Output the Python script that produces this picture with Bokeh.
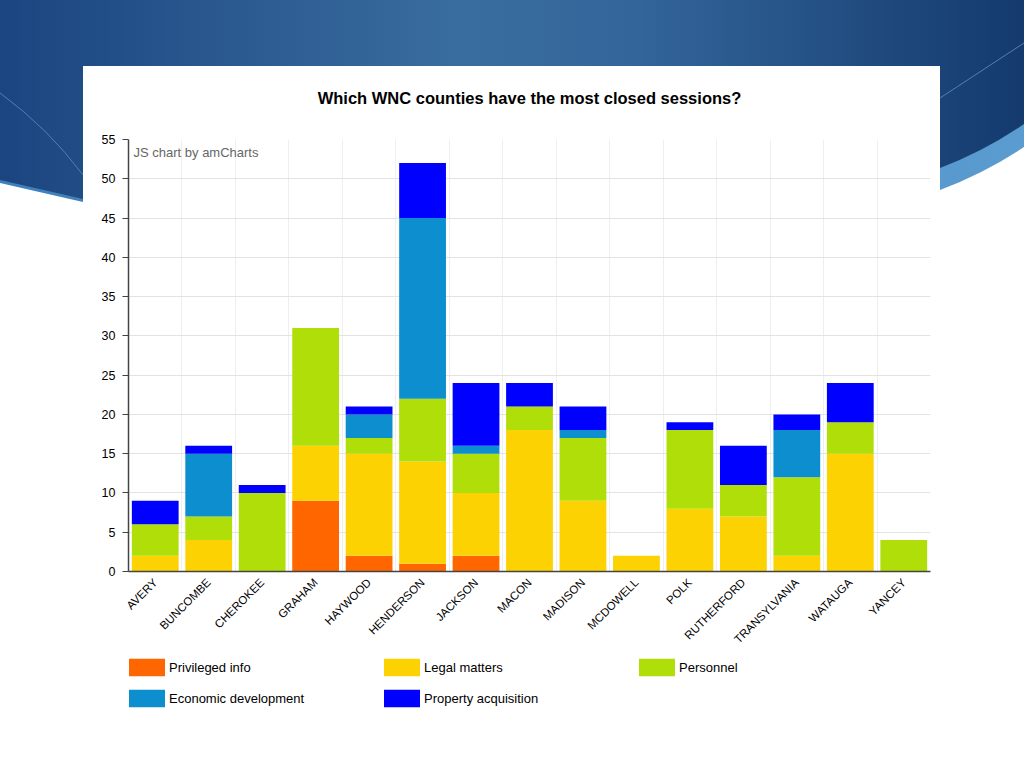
from math import pi
from urllib.parse import quote

from bokeh.plotting import figure
from bokeh.layouts import column
from bokeh.models import (ColumnDataSource, FactorRange, Range1d, FixedTicker,
                          Label, Legend, LegendItem)
from bokeh.embed import file_html
from bokeh.resources import INLINE

# ---------------- data ----------------
counties = ["AVERY", "BUNCOMBE", "CHEROKEE", "GRAHAM", "HAYWOOD", "HENDERSON",
            "JACKSON", "MACON", "MADISON", "MCDOWELL", "POLK", "RUTHERFORD",
            "TRANSYLVANIA", "WATAUGA", "YANCEY"]
privileged_info = [0, 0, 0, 9, 2, 1, 2, 0, 0, 0, 0, 0, 0, 0, 0]
legal_matters = [2, 4, 0, 7, 13, 13, 8, 18, 9, 2, 8, 7, 2, 15, 0]
personnel = [4, 3, 10, 15, 2, 8, 5, 3, 8, 0, 10, 4, 10, 4, 4]
economic_development = [0, 8, 0, 0, 3, 23, 1, 0, 1, 0, 0, 0, 6, 0, 0]
property_acquisition = [3, 1, 1, 0, 1, 7, 8, 3, 3, 0, 1, 5, 2, 5, 0]

series_labels = ["Privileged info", "Legal matters", "Personnel",
                 "Economic development", "Property acquisition"]
series_keys = ["privileged", "legal", "personnel", "economic", "property"]
series_colors = ["#FF6600", "#FCD202", "#B0DE09", "#0D8ECF", "#0000FF"]
y_ticks = list(range(0, 56, 5))
title_text = "Which WNC counties have the most closed sessions?"
credit_text = "JS chart by amCharts"

# ---------------- layout (page pixels) ----------------
W, H = 1024, 768
TOP_H = 110                 # title strip
CHART_H = 545               # chart strip
LEG_H = H - TOP_H - CHART_H # legend strip
FL, FR, FT, FB = 128, 930, 139, 571   # plot frame edges on the page
FW, FH = FR - FL, FB - FT

FONT = "Liberation Sans"

# slide background (decorative), shared by the three strips
bg_svg = f"""<svg xmlns='http://www.w3.org/2000/svg' width='{W}' height='{H}'>
<defs>
<linearGradient id='g' x1='0' y1='0' x2='1' y2='0'>
<stop offset='0' stop-color='#1b4580'/>
<stop offset='0.45' stop-color='#3a6d9f'/>
<stop offset='0.62' stop-color='#33659a'/>
<stop offset='1' stop-color='#143a6e'/>
</linearGradient>
<linearGradient id='b' x1='0' y1='0' x2='1' y2='0'>
<stop offset='0' stop-color='#3f7fba'/>
<stop offset='1' stop-color='#5a9bd0'/>
</linearGradient>
</defs>
<rect x='0' y='0' width='{W}' height='{H}' fill='#ffffff'/>
<path d='M0,0 H1024 V147 Q985,173 940,190 L500,245 L83,202 L0,183 Z' fill='url(#b)'/>
<path d='M0,0 H1024 V124 Q985,151 940,168 L500,235 L83,199 L0,180 Z' fill='url(#g)'/>
<path d='M0,93 Q48,128 83,175' stroke='#4f80b5' stroke-width='1' fill='none'/>
<path d='M940,98 L1024,43' stroke='#4f80b5' stroke-width='1' fill='none'/>
<rect x='83' y='66' width='857' height='702' fill='#ffffff'/>
</svg>"""
bg_url = 'url("data:image/svg+xml,' + quote(bg_svg) + '")'


def strip_styles(offset_y):
    return {
        "background-image": bg_url,
        "background-repeat": "no-repeat",
        "background-size": f"{W}px {H}px",
        "background-position": f"0px {-offset_y}px",
    }


def clear_strip(fig):
    fig.border_fill_color = None
    fig.border_fill_alpha = 0
    fig.background_fill_color = None
    fig.background_fill_alpha = 0
    fig.outline_line_color = None
    fig.grid.visible = False


source = ColumnDataSource(dict(
    county=counties,
    privileged=privileged_info,
    legal=legal_matters,
    personnel=personnel,
    economic=economic_development,
    property=property_acquisition,
))

# ---------------- title strip ----------------
top = figure(width=W, height=TOP_H, x_range=Range1d(0, 1), y_range=Range1d(0, 1),
             output_backend="svg", toolbar_location=None, title_location=None,
             x_axis_type=None, y_axis_type=None,
             min_border_left=FL, min_border_right=W - FR,
             min_border_top=0, min_border_bottom=0)
clear_strip(top)
top.styles = strip_styles(0)
top.add_layout(Label(x=FW / 2, y=TOP_H - 97, x_units="screen", y_units="screen",
                     text=title_text, text_align="center", text_baseline="middle",
                     text_font=FONT, text_font_style="bold", text_font_size="16.5px",
                     text_color="#000000"))

# ---------------- chart strip ----------------
p = figure(width=W, height=CHART_H,
           x_range=FactorRange(factors=counties, range_padding=0),
           y_range=Range1d(0, 55),
           output_backend="svg", toolbar_location=None, title_location=None,
           min_border_left=FL, min_border_right=W - FR,
           min_border_top=FT - TOP_H, min_border_bottom=TOP_H + CHART_H - FB)
p.styles = strip_styles(TOP_H)
p.border_fill_color = None
p.border_fill_alpha = 0
p.background_fill_color = "#ffffff"
p.outline_line_color = None

p.vbar_stack(series_keys, x="county", width=0.875, source=source,
             fill_color=series_colors, line_color=None)

p.yaxis.ticker = FixedTicker(ticks=y_ticks)
p.yaxis.axis_line_color = "#444444"
p.yaxis.axis_line_width = 1.5
p.yaxis.major_tick_line_color = "#444444"
p.yaxis.major_tick_in = 0
p.yaxis.major_tick_out = 6
p.yaxis.minor_tick_line_color = None
p.yaxis.major_label_standoff = 7
p.yaxis.major_label_text_font = FONT
p.yaxis.major_label_text_font_size = "12.5px"
p.yaxis.major_label_text_color = "#000000"

p.xaxis.axis_line_color = "#444444"
p.xaxis.axis_line_width = 1.5
p.xaxis.major_tick_line_color = None
p.xaxis.major_tick_in = 0
p.xaxis.major_tick_out = 0
p.xaxis.minor_tick_line_color = None
p.xaxis.major_label_orientation = pi / 4
p.xaxis.major_label_standoff = 9
p.xaxis.major_label_text_font = FONT
p.xaxis.major_label_text_font_size = "11.5px"
p.xaxis.major_label_text_color = "#000000"

p.ygrid.grid_line_color = "#e3e3e3"
p.ygrid.grid_line_width = 1
p.xgrid.ticker = FixedTicker(ticks=list(range(0, len(counties) + 1)))
p.xgrid.grid_line_color = "#efefef"
p.xgrid.grid_line_width = 1

p.add_layout(Label(x=5, y=FH - 13, x_units="screen", y_units="screen",
                   text=credit_text, text_align="left", text_baseline="middle",
                   text_font=FONT, text_font_size="13px", text_color="#666666"))

# ---------------- legend strip ----------------
# zero-size key glyphs (one per series) that only carry the legend swatches
leg = figure(width=W, height=LEG_H,
             x_range=FactorRange(factors=counties, range_padding=0),
             y_range=Range1d(1, 2),
             output_backend="svg", toolbar_location=None, title_location=None,
             x_axis_type=None, y_axis_type=None,
             min_border_left=FL, min_border_right=W - FR,
             min_border_top=0, min_border_bottom=0)
clear_strip(leg)
leg.styles = strip_styles(TOP_H + CHART_H)
key_renderers = [leg.vbar(x="county", top=0, bottom=0, width=0, source=source,
                          fill_color=c, line_color=None)
                 for c in series_colors]

items = [LegendItem(label=lab, renderers=[r]) for lab, r in zip(series_labels, key_renderers)]
leg_top = 656 - (TOP_H + CHART_H)          # top of first legend row, strip pixels
leg_height = 22 + 9 + 22
legend = Legend(items=items, location=(-4, LEG_H - leg_top - leg_height),
                orientation="horizontal", ncols=3,
                glyph_width=45, glyph_height=22, label_standoff=0,
                label_width=201, label_height=22, spacing=9, padding=0, margin=0,
                border_line_color=None, background_fill_alpha=0,
                label_text_font=FONT, label_text_font_size="13px",
                label_text_color="#000000")
leg.add_layout(legend)

page = column(top, p, leg, spacing=0)
open("out.html", "w").write(file_html(page, INLINE))
